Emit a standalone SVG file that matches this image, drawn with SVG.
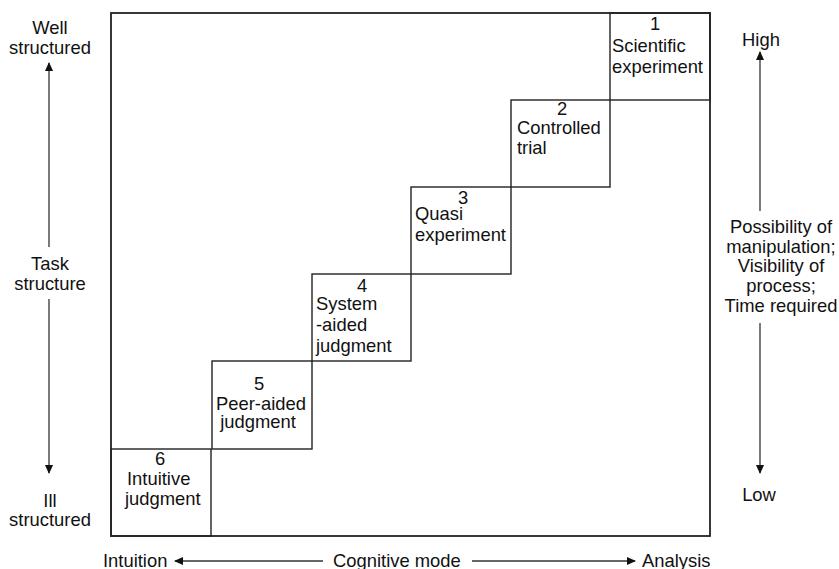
<svg xmlns="http://www.w3.org/2000/svg" width="839" height="569" viewBox="0 0 839 569">
<defs>
<style>
text{font-family:"Liberation Sans",Arial,Helvetica,sans-serif;font-size:18.4px;fill:#111}
.m{text-anchor:middle}
.box{fill:none;stroke:#222;stroke-width:1.4}
.frame{fill:none;stroke:#222;stroke-width:1.8}
.ax{fill:none;stroke:#333;stroke-width:1.3}
</style>
<marker id="ah" markerWidth="9" markerHeight="8" refX="8" refY="4" orient="auto" markerUnits="userSpaceOnUse">
<path d="M0,0 L9,4 L0,8 Z" fill="#111"/>
</marker>
</defs>
<rect id="frame" class="frame" x="111" y="13" width="599" height="523"/>
<g id="box1"><rect class="box" x="610" y="13" width="100" height="87"/>
<text class="m" x="655" y="29.5">1</text><text x="612" y="51.5">Scientific</text><text x="612" y="72.5">experiment</text></g>
<g id="box2"><rect class="box" x="511" y="100" width="99" height="87"/>
<text class="m" x="562" y="114.5">2</text><text x="517" y="133.5">Controlled</text><text x="517" y="153.5">trial</text></g>
<g id="box3"><rect class="box" x="411" y="187" width="100" height="87"/>
<text class="m" x="463" y="203.5">3</text><text x="415" y="219.5">Quasi</text><text x="415" y="240.5">experiment</text></g>
<g id="box4"><rect class="box" x="312" y="274" width="99" height="87"/>
<text class="m" x="362" y="291.5">4</text><text x="316" y="309.5">System</text><text x="316" y="330.5">-aided</text><text x="316" y="351.5">judgment</text></g>
<g id="box5"><rect class="box" x="212" y="361" width="100" height="88"/>
<text class="m" x="259" y="389.5">5</text><text class="m" x="261" y="409.5">Peer-aided</text><text class="m" x="258" y="427.5">judgment</text></g>
<g id="box6"><rect class="box" x="111" y="449" width="100" height="87"/>
<text class="m" x="160" y="464.5">6</text><text x="127" y="484.5">Intuitive</text><text x="125" y="504.5">judgment</text></g>
<g id="labels">
<text class="m" x="50" y="33.5">Well</text><text class="m" x="50" y="53.5">structured</text>
<text class="m" x="50" y="269.5">Task</text><text class="m" x="50" y="289.5">structure</text>
<text class="m" x="50" y="506.5">Ill</text><text class="m" x="50" y="525.5">structured</text>
<text class="m" x="761" y="45.5">High</text>
<text class="m" x="781" y="233">Possibility of</text><text class="m" x="781" y="253">manipulation;</text><text class="m" x="781" y="272">Visibility of</text><text class="m" x="781" y="292">process;</text><text class="m" x="781" y="311.5">Time required</text>
<text class="m" x="759" y="500.5">Low</text>
<text x="103" y="566.5">Intuition</text>
<text x="333" y="566.5">Cognitive mode</text>
<text x="642" y="566.5">Analysis</text>
</g>
<g id="connectors">
<line class="ax" x1="49" y1="247" x2="49" y2="63" marker-end="url(#ah)"/>
<line class="ax" x1="49" y1="299" x2="49" y2="473" marker-end="url(#ah)"/>
<line class="ax" x1="760" y1="211" x2="760" y2="52" marker-end="url(#ah)"/>
<line class="ax" x1="760" y1="323" x2="760" y2="473" marker-end="url(#ah)"/>
<line class="ax" x1="323" y1="561" x2="175" y2="561" marker-end="url(#ah)"/>
<line class="ax" x1="472" y1="561" x2="635" y2="561" marker-end="url(#ah)"/>
</g>
</svg>
